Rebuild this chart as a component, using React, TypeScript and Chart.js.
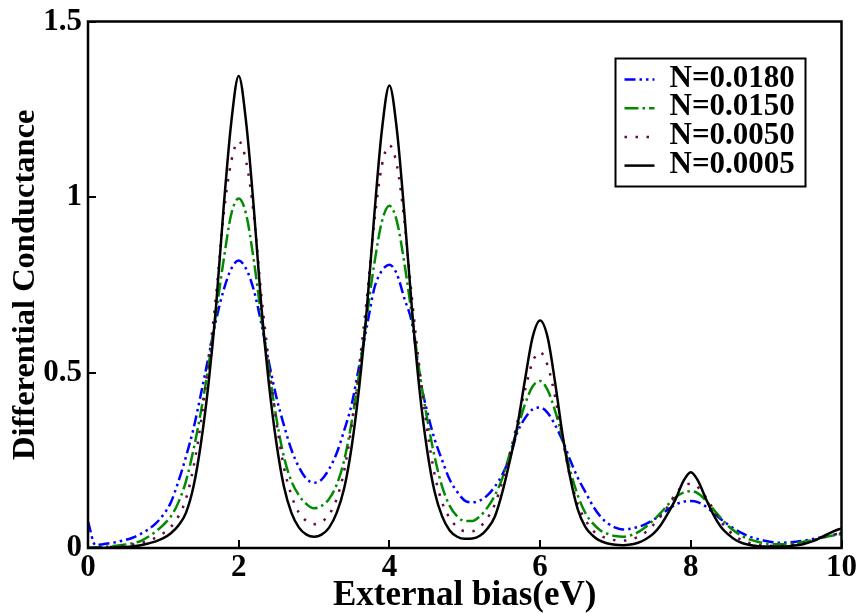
import React, { useEffect, useRef } from "react";
import { Chart, registerables } from "chart.js";

Chart.register(...registerables);

const FONT = '"Liberation Serif", "Times New Roman", serif';

// External bias (eV)
const biasValues = [
  0, 0.1, 0.2, 0.3, 0.4, 0.5, 0.6, 0.7, 0.8, 0.9,
  1, 1.1, 1.2, 1.3, 1.4, 1.5, 1.6, 1.7, 1.8, 1.9,
  2, 2.1, 2.2, 2.3, 2.4, 2.5, 2.6, 2.7, 2.8, 2.9,
  3, 3.1, 3.2, 3.3, 3.4, 3.5, 3.6, 3.7, 3.8, 3.9,
  4, 4.1, 4.2, 4.3, 4.4, 4.5, 4.6, 4.7, 4.8, 4.9,
  5, 5.1, 5.2, 5.3, 5.4, 5.5, 5.6, 5.7, 5.8, 5.9,
  6, 6.1, 6.2, 6.3, 6.4, 6.5, 6.6, 6.7, 6.8, 6.9,
  7, 7.1, 7.2, 7.3, 7.4, 7.5, 7.6, 7.7, 7.8, 7.9,
  8, 8.1, 8.2, 8.3, 8.4, 8.5, 8.6, 8.7, 8.8, 8.9,
  9, 9.1, 9.2, 9.3, 9.4, 9.5, 9.6, 9.7, 9.8, 9.9,
  10,
];

// N = 0.0180 (blue, dash-dot-dot)
const gN0180 = [
  0.075, 0.008, 0.011, 0.014, 0.018, 0.023, 0.03, 0.04, 0.053, 0.07,
  0.095, 0.13, 0.19, 0.26, 0.34, 0.44, 0.545, 0.65, 0.735, 0.795,
  0.819, 0.795, 0.735, 0.64, 0.53, 0.43, 0.35, 0.28, 0.23, 0.197,
  0.186, 0.195, 0.225, 0.27, 0.335, 0.41, 0.52, 0.63, 0.74, 0.79,
  0.807, 0.78, 0.71, 0.64, 0.49, 0.39, 0.31, 0.25, 0.195, 0.16,
  0.135, 0.13, 0.135, 0.15, 0.175, 0.21, 0.26, 0.33, 0.37, 0.395,
  0.4, 0.385, 0.35, 0.305, 0.25, 0.2, 0.16, 0.12, 0.09, 0.07,
  0.058, 0.053, 0.055, 0.06, 0.068, 0.08, 0.094, 0.11, 0.124, 0.132,
  0.134, 0.13, 0.118, 0.1, 0.082, 0.066, 0.052, 0.04, 0.031, 0.025,
  0.02, 0.016, 0.015, 0.016, 0.018, 0.021, 0.025, 0.029, 0.034, 0.038,
  0.042,
];

// N = 0.0150 (green, dash-dot)
const gN0150 = [
  0.001, 0.002, 0.003, 0.005, 0.007, 0.01, 0.014, 0.02, 0.032, 0.047,
  0.066, 0.09, 0.13, 0.19, 0.28, 0.39, 0.52, 0.67, 0.82, 0.95,
  0.996, 0.95, 0.82, 0.66, 0.51, 0.37, 0.26, 0.19, 0.15, 0.125,
  0.113, 0.12, 0.14, 0.18, 0.25, 0.36, 0.5, 0.66, 0.81, 0.93,
  0.975, 0.93, 0.81, 0.66, 0.5, 0.37, 0.26, 0.175, 0.12, 0.09,
  0.077, 0.077, 0.09, 0.115, 0.15, 0.2, 0.27, 0.34, 0.41, 0.46,
  0.476, 0.45, 0.39, 0.31, 0.22, 0.15, 0.1, 0.07, 0.05, 0.04,
  0.034, 0.032, 0.036, 0.045, 0.06, 0.078, 0.1, 0.124, 0.145, 0.158,
  0.162, 0.155, 0.135, 0.11, 0.085, 0.062, 0.045, 0.032, 0.023, 0.017,
  0.013, 0.011, 0.011, 0.012, 0.014, 0.018, 0.022, 0.027, 0.032, 0.036,
  0.04,
];

// N = 0.0050 (maroon, dotted)
const gN0050 = [
  0, 0.001, 0.002, 0.003, 0.005, 0.007, 0.01, 0.014, 0.02, 0.03,
  0.042, 0.06, 0.09, 0.14, 0.23, 0.36, 0.53, 0.72, 0.95, 1.1,
  1.159, 1.1, 0.95, 0.72, 0.53, 0.36, 0.23, 0.15, 0.1, 0.077,
  0.068, 0.075, 0.095, 0.14, 0.22, 0.35, 0.52, 0.71, 0.93, 1.09,
  1.147, 1.09, 0.93, 0.71, 0.51, 0.34, 0.21, 0.13, 0.085, 0.06,
  0.048, 0.048, 0.06, 0.085, 0.125, 0.19, 0.27, 0.36, 0.45, 0.53,
  0.558, 0.52, 0.43, 0.31, 0.2, 0.125, 0.08, 0.05, 0.035, 0.027,
  0.022, 0.021, 0.024, 0.032, 0.045, 0.065, 0.09, 0.12, 0.155, 0.177,
  0.183, 0.172, 0.145, 0.11, 0.075, 0.05, 0.032, 0.02, 0.013, 0.009,
  0.007, 0.006, 0.006, 0.008, 0.011, 0.015, 0.021, 0.027, 0.033, 0.038,
  0.042,
];

// N = 0.0005 (black, solid)
const gN0005 = [
  0, 0, 0, 0.001, 0.002, 0.003, 0.005, 0.008, 0.013, 0.019,
  0.028, 0.042, 0.064, 0.1, 0.175, 0.3, 0.47, 0.69, 0.97, 1.21,
  1.345, 1.21, 0.97, 0.69, 0.47, 0.3, 0.175, 0.1, 0.058, 0.038,
  0.032, 0.038, 0.058, 0.1, 0.17, 0.29, 0.46, 0.68, 0.95, 1.19,
  1.318, 1.19, 0.95, 0.68, 0.45, 0.28, 0.16, 0.09, 0.05, 0.032,
  0.026, 0.027, 0.035, 0.055, 0.09, 0.16, 0.25, 0.35, 0.48, 0.6,
  0.648, 0.6, 0.47, 0.32, 0.2, 0.11, 0.06, 0.035, 0.02, 0.013,
  0.009, 0.008, 0.01, 0.015, 0.025, 0.04, 0.065, 0.1, 0.14, 0.19,
  0.216, 0.19, 0.14, 0.095, 0.06, 0.038, 0.022, 0.013, 0.008, 0.005,
  0.004, 0.004, 0.004, 0.005, 0.008, 0.011, 0.018, 0.027, 0.038, 0.048,
  0.056,
];

const seriesLabels = ["N=0.0180", "N=0.0150", "N=0.0050", "N=0.0005"];
const seriesValues = [gN0180, gN0150, gN0050, gN0005];
const seriesColors = ["#0000ff", "#008b00", "#670748", "#000000"];
const seriesDashes: number[][] = [
  [11, 4, 2.5, 4, 2.5, 4],
  [14, 4, 2.5, 4],
  [2.5, 8.5],
  [],
];

const frameLegendPlugin = {
  id: "frameLegend",
  afterDatasetsDraw(chart: any) {
    const ctx = chart.ctx as CanvasRenderingContext2D;
    const { left, top, right, bottom } = chart.chartArea;
    const xs = chart.scales.x;
    const ys = chart.scales.y;
    ctx.save();
    // inward ticks
    ctx.strokeStyle = "#000";
    ctx.lineWidth = 2;
    ctx.beginPath();
    xs.ticks.forEach((t: any) => {
      const px = Math.round(xs.getPixelForValue(t.value));
      ctx.moveTo(px, bottom);
      ctx.lineTo(px, bottom - 8);
    });
    ys.ticks.forEach((t: any) => {
      const py = Math.round(ys.getPixelForValue(t.value));
      ctx.moveTo(left, py);
      ctx.lineTo(left + 8, py);
    });
    ctx.stroke();
    // frame
    ctx.lineWidth = 2.5;
    ctx.strokeRect(left, top, right - left, bottom - top);
    // legend box
    const bx = right - 226;
    const by = top + 37;
    const bw = 190;
    const bh = 128;
    ctx.fillStyle = "#fff";
    ctx.fillRect(bx, by, bw, bh);
    ctx.lineWidth = 2;
    ctx.strokeStyle = "#000";
    ctx.strokeRect(bx, by, bw, bh);
    chart.data.datasets.forEach((ds: any, i: number) => {
      const cy = by + 20 + i * 28.7;
      ctx.strokeStyle = ds.borderColor;
      ctx.lineWidth = ds.borderWidth;
      ctx.setLineDash(ds.borderDash || []);
      ctx.beginPath();
      ctx.moveTo(bx + 9, cy + 1);
      ctx.lineTo(bx + 39, cy + 1);
      ctx.stroke();
      ctx.setLineDash([]);
      ctx.fillStyle = "#000";
      ctx.font = `bold 31px ${FONT}`;
      ctx.textBaseline = "middle";
      ctx.textAlign = "left";
      ctx.fillText(ds.label, bx + 54, cy);
    });
    ctx.restore();
  },
};

export default function App() {
  const canvasRef = useRef<HTMLCanvasElement | null>(null);

  useEffect(() => {
    if (!canvasRef.current) return;
    const datasets = seriesLabels.map((label, i) => ({
      label,
      data: biasValues.map((x, j) => ({ x, y: seriesValues[i][j] })),
      borderColor: seriesColors[i],
      backgroundColor: seriesColors[i],
      borderWidth: 2.5,
      borderDash: seriesDashes[i],
      pointRadius: 0,
      fill: false,
      cubicInterpolationMode: "monotone" as const,
      order: 3 - i,
    }));
    const chart = new Chart(canvasRef.current, {
      type: "line",
      data: { datasets },
      options: {
        animation: false,
        responsive: false,
        layout: { padding: { top: 19, right: 18, left: 0, bottom: 0 } },
        plugins: { legend: { display: false }, tooltip: { enabled: false } },
        scales: {
          x: {
            type: "linear",
            min: 0,
            max: 10,
            grid: { display: false, drawTicks: false },
            border: { display: false },
            ticks: {
              stepSize: 2,
              color: "#000",
              padding: 4,
              maxRotation: 0,
              font: { family: FONT, size: 31, weight: "bold", lineHeight: 1 },
              callback: (v: any) => String(v),
            },
            title: {
              display: true,
              text: "External bias(eV)",
              color: "#000",
              font: { family: FONT, size: 35, weight: "bold", lineHeight: 1 },
              padding: { top: 0, bottom: 0 },
            },
            afterFit: (scale: any) => {
              scale.height = 65;
            },
          },
          y: {
            type: "linear",
            min: 0,
            max: 1.5,
            grid: { display: false, drawTicks: false },
            border: { display: false },
            ticks: {
              stepSize: 0.5,
              color: "#000",
              padding: 6,
              font: { family: FONT, size: 31, weight: "bold", lineHeight: 1 },
              callback: (v: any) => String(v),
            },
            title: {
              display: true,
              text: "Differential Conductance",
              color: "#000",
              font: { family: FONT, size: 32.5, weight: "bold", lineHeight: 1 },
              padding: { top: 9, bottom: 0 },
            },
            afterFit: (scale: any) => {
              scale.width = 88;
            },
          },
        },
      },
      plugins: [frameLegendPlugin],
    });
    return () => chart.destroy();
  }, []);

  return (
    <div style={{ position: "absolute", left: 0, top: 0, width: 861, height: 613 }}>
      <canvas ref={canvasRef} width={861} height={613} />
    </div>
  );
}
